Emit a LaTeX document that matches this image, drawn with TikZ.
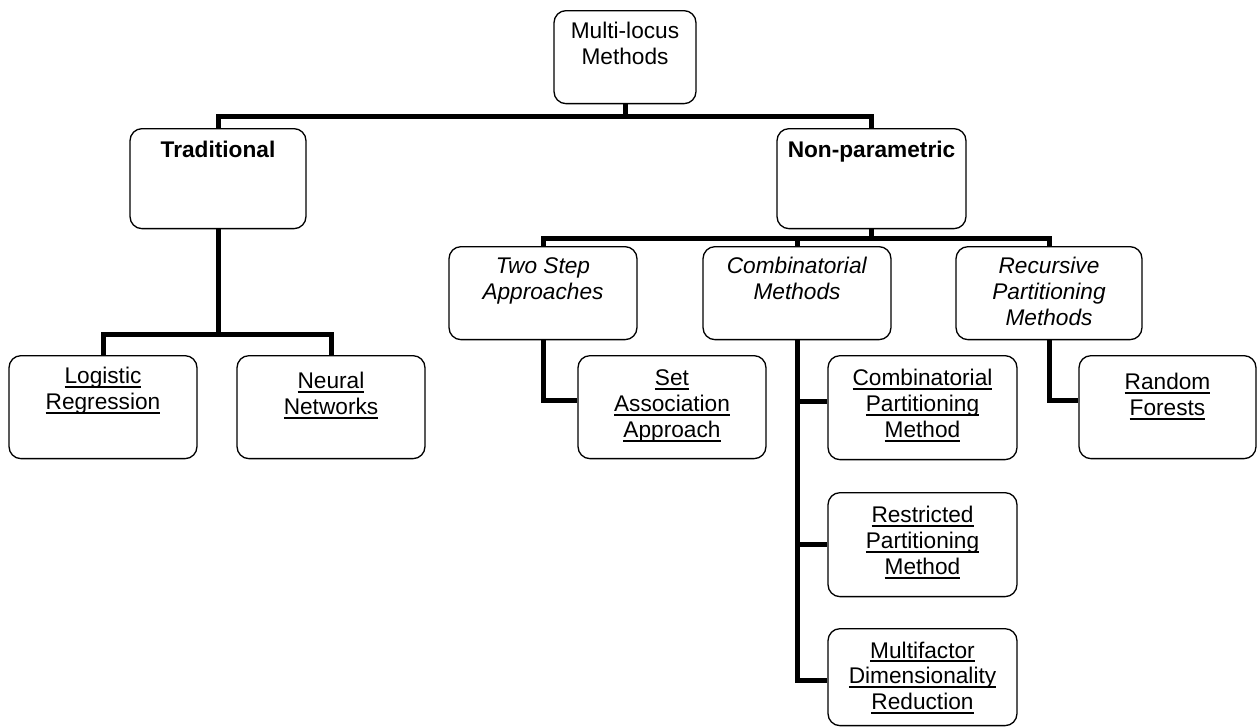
\documentclass[tikz,border=0pt]{standalone}
\usepackage{fontspec}
\setmainfont{Liberation Sans}
\newcommand{\ulnd}[1]{\setbox0\hbox{#1}\rlap{\vrule width\wd0 height -1.3pt depth 2.2pt}\box0}
\begin{document}
\begin{tikzpicture}[x=0.02cm,y=-0.02cm,
  box/.style={draw,line width=0.75pt,rounded corners=0.24cm,anchor=north,align=center,
    inner sep=0pt,font=\fontsize{12.9}{14.7}\selectfont,minimum width=3.76cm,
    text height=1.08cm,text depth=0.98cm},
  link/.style={line width=0.1cm}]
\useasboundingbox (0,0) rectangle (1257,727);
\node[box,minimum width=2.84cm,text depth=0.78cm] (ml) at (625,10) {Multi-locus\\Methods};
\node[box,minimum width=3.52cm,text height=0.58cm,text depth=1.42cm] (trad) at (218,128) {\textbf{Traditional}};
\node[box,minimum width=3.78cm,text height=0.58cm,text depth=1.42cm] (np) at (871.5,128) {\textbf{Non-parametric}};
\node[box,text height=1.06cm,text depth=0.8cm] (two) at (543,246) {\textit{Two Step}\\\textit{Approaches}};
\node[box,text height=1.06cm,text depth=0.8cm] (comb) at (797,246) {\textit{Combinatorial}\\\textit{Methods}};
\node[box,minimum width=3.72cm,text height=1.58cm,text depth=0.28cm] (rec) at (1049,246) {\textit{Recursive}\\\textit{Partitioning}\\\textit{Methods}};
\node[box] (log) at (103,355) {\ulnd{Logistic}\\\ulnd{Regression}};
\node[box,text height=1.18cm,text depth=0.88cm] (neu) at (331,355) {\ulnd{Neural}\\\ulnd{Networks}};
\node[box,text height=1.64cm,text depth=0.42cm] (set) at (672,355) {\ulnd{Set}\\\ulnd{Association}\\\ulnd{Approach}};
\node[box,minimum width=3.78cm,text height=1.64cm,text depth=0.44cm] (cpm) at (922.5,355) {\ulnd{Combinatorial}\\\ulnd{Partitioning}\\\ulnd{Method}};
\node[box,minimum width=3.78cm,text height=1.64cm,text depth=0.44cm] (rpm) at (922.5,492) {\ulnd{Restricted}\\\ulnd{Partitioning}\\\ulnd{Method}};
\node[box,minimum width=3.78cm,text height=1.62cm,text depth=0.32cm] (mdr) at (922.5,628) {\ulnd{Multifactor}\\\ulnd{Dimensionality}\\\ulnd{Reduction}};
\node[box,minimum width=3.54cm,text height=1.2cm,text depth=0.86cm] (rf) at (1167.5,355) {\ulnd{Random}\\\ulnd{Forests}};
\path (ml.south) ++(0,12) coordinate (j0);
\path (trad.south) ++(0,105) coordinate (j1);
\path (np.south) ++(0,9) coordinate (j2);
\draw[link] (ml.south) -- (j0);
\draw[link] (trad.north) |- (j0) -| (np.north);
\draw[link] (trad.south) -- (j1);
\draw[link] (log.north) |- (j1) -| (neu.north);
\draw[link] (np.south) -- (j2);
\draw[link] (two.north) |- (j2) -| (rec.north);
\draw[link] (comb.north) -- (comb.north |- j2);
\draw[link] (two.south) |- ([yshift=0.13cm]set.west);
\draw[link] (comb.south) |- ([yshift=0.13cm]cpm.west);
\draw[link] (comb.south) |- (rpm.west);
\draw[link] (comb.south) |- ([yshift=-0.07cm]mdr.west);
\draw[link] (rec.south) |- ([yshift=0.13cm]rf.west);
\end{tikzpicture}
\end{document}
